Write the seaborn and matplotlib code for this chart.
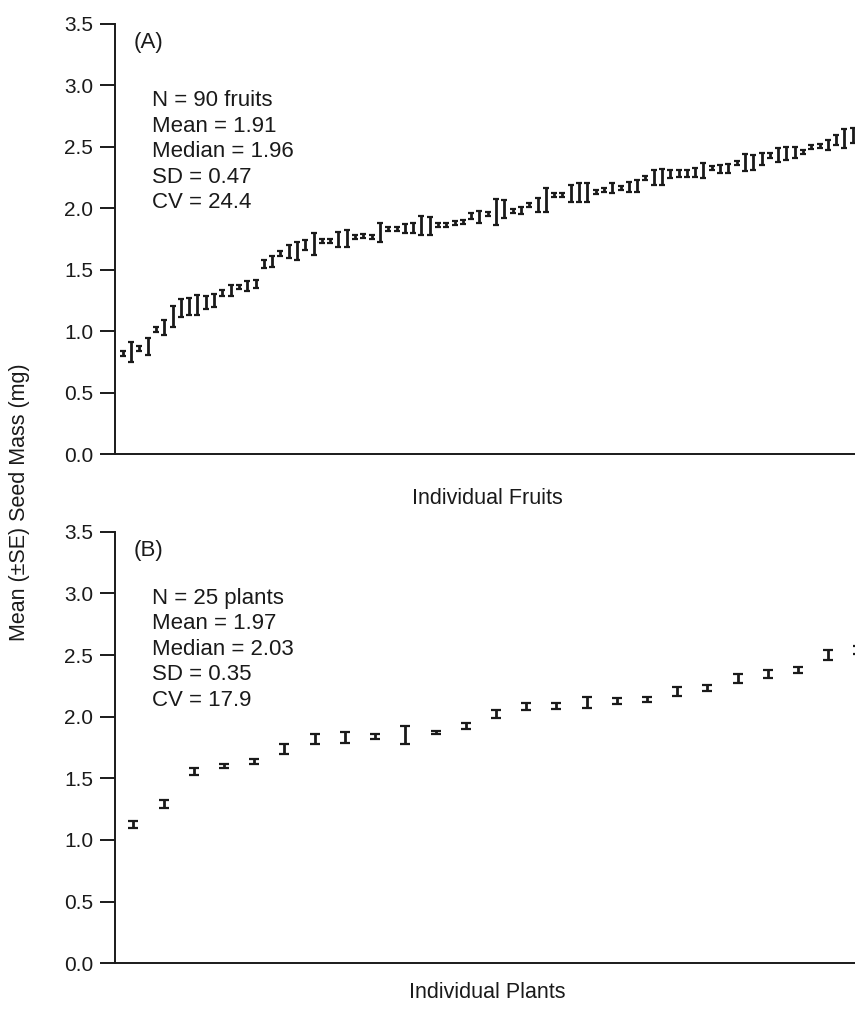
import matplotlib
matplotlib.use("Agg")
from matplotlib import pyplot as plt
import numpy as np
import seaborn as sns

# panel A: individual fruits (mean seed mass, SE), sorted by mean
fruit_mean = [0.82, 0.83, 0.86, 0.875, 1.01, 1.03, 1.12, 1.19, 1.20, 1.215,
              1.23, 1.25, 1.31, 1.33, 1.36, 1.37, 1.385, 1.548, 1.565, 1.633,
              1.646, 1.654, 1.70, 1.709, 1.731, 1.731, 1.749, 1.755, 1.766, 1.771,
              1.768, 1.804, 1.828, 1.828, 1.836, 1.839, 1.861, 1.858, 1.863, 1.863,
              1.882, 1.885, 1.937, 1.931, 1.955, 1.971, 1.993, 1.98, 1.983, 2.026,
              2.026, 2.067, 2.107, 2.107, 2.121, 2.129, 2.129, 2.134, 2.148, 2.164,
              2.162, 2.175, 2.183, 2.243, 2.251, 2.254, 2.278, 2.281, 2.281, 2.289,
              2.308, 2.325, 2.319, 2.325, 2.365, 2.37, 2.375, 2.40, 2.427, 2.433,
              2.447, 2.455, 2.457, 2.498, 2.509, 2.514, 2.555, 2.566, 2.593, 2.671]
fruit_se = [0.02, 0.08, 0.02, 0.066, 0.02, 0.061, 0.088, 0.075, 0.07, 0.08,
            0.053, 0.05, 0.027, 0.047, 0.018, 0.04, 0.034, 0.035, 0.043, 0.019,
            0.054, 0.075, 0.04, 0.088, 0.016, 0.016, 0.061, 0.068, 0.016, 0.016,
            0.016, 0.075, 0.016, 0.016, 0.04, 0.043, 0.077, 0.075, 0.016, 0.016,
            0.016, 0.016, 0.027, 0.049, 0.016, 0.108, 0.075, 0.016, 0.03, 0.016,
            0.054, 0.095, 0.016, 0.016, 0.068, 0.075, 0.075, 0.016, 0.016, 0.043,
            0.016, 0.04, 0.047, 0.016, 0.061, 0.064, 0.034, 0.03, 0.03, 0.037,
            0.064, 0.016, 0.034, 0.035, 0.016, 0.068, 0.06, 0.047, 0.02, 0.054,
            0.054, 0.047, 0.016, 0.016, 0.016, 0.04, 0.04, 0.077, 0.058, 0.047]

# panel B: individual plants
plant_mean = [1.127, 1.294, 1.554, 1.60, 1.635, 1.736, 1.819, 1.833, 1.838, 1.852,
              1.87, 1.925, 2.022, 2.081, 2.089, 2.114, 2.127, 2.141, 2.203, 2.230,
              2.311, 2.346, 2.379, 2.50, 2.541]
plant_se = [0.027, 0.034, 0.027, 0.02, 0.02, 0.042, 0.042, 0.045, 0.019, 0.076,
            0.012, 0.022, 0.035, 0.03, 0.025, 0.047, 0.025, 0.022, 0.038, 0.025,
            0.034, 0.03, 0.022, 0.043, 0.035]

yticks = [0.0, 0.5, 1.0, 1.5, 2.0, 2.5, 3.0, 3.5]

fruit_stats = "N = 90 fruits\nMean = 1.91\nMedian = 1.96\nSD = 0.47\nCV = 24.4"
plant_stats = "N = 25 plants\nMean = 1.97\nMedian = 2.03\nSD = 0.35\nCV = 17.9"

sns.set_theme(style="ticks")
plt.rcParams['font.family'] = ['Liberation Sans', 'DejaVu Sans']

W, H = 855, 1018
fig = plt.figure(figsize=(W / 100, H / 100), dpi=100)

ink = '#1a1a1a'


def add_panel(top_px, bottom_px, means, ses, capsize, letter, stats_text,
              stats_y, xlim):
    ax = fig.add_axes([115 / W, 1 - bottom_px / H, (W - 115) / W + 0.01,
                       (bottom_px - top_px) / H])
    x = np.arange(len(means))
    ax.errorbar(x, means, yerr=ses, fmt='none', ecolor=ink, elinewidth=2.0,
                capsize=capsize, capthick=1.6)
    ax.set_xlim(*xlim)
    ax.set_ylim(0, 3.5)
    ax.set_yticks(yticks)
    ax.set_yticklabels([f"{t:.1f}" for t in yticks])
    ax.set_xticks([])
    sns.despine(ax=ax)
    for side in ['left', 'bottom']:
        ax.spines[side].set_linewidth(1.4)
        ax.spines[side].set_color(ink)
    ax.tick_params(axis='y', length=10.8, width=1.4, color=ink, pad=5,
                   labelsize=15, labelcolor=ink)
    ax.text(18 / 740, 1 - 19 / 430, letter, transform=ax.transAxes,
            fontsize=16, color=ink, va='center', ha='left')
    ax.text(37 / 740, stats_y, stats_text, transform=ax.transAxes,
            fontsize=16, color=ink, va='center', ha='left', linespacing=1.28)
    return ax


add_panel(24, 454, fruit_mean, fruit_se, 2.0, "(A)", fruit_stats, 0.703,
          (-0.94, 89.3))
add_panel(531.7, 963.3, plant_mean, plant_se, 3.3, "(B)", plant_stats, 0.728,
          (-0.61, 24.17))

fig.text(487 / W, 1 - 498 / H, "Individual Fruits", ha='center', va='center',
         fontsize=15.5, color=ink)
fig.text(487 / W, 1 - 992 / H, "Individual Plants", ha='center', va='center',
         fontsize=15.5, color=ink)
fig.text(20 / W, 1 - 502 / H, "Mean (\u00b1SE) Seed Mass (mg)", rotation=90,
         ha='center', va='center', fontsize=15.5, color=ink)

fig.savefig("out.png", dpi=100)
